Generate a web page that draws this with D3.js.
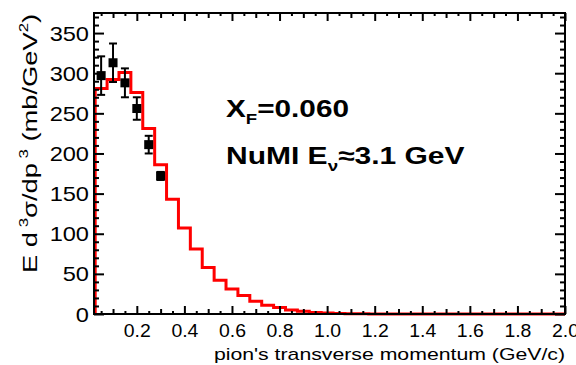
<!DOCTYPE html>
<html>
<head>
<meta charset="utf-8">
<script src="https://cdn.jsdelivr.net/npm/d3@7/dist/d3.min.js"></script>
<style>
  body { margin: 0; background: #fff; }
  text { font-family: "Liberation Sans", Arial, Helvetica, sans-serif; fill: #000; }
</style>
</head>
<body>
<svg id="chart" width="576" height="365"></svg>
<script>
// histogram (red line): lower bin edges and contents, mb/GeV^2
const binLow = [0.025, 0.075, 0.125, 0.175, 0.225, 0.275, 0.325, 0.375, 0.425, 0.475,
                0.525, 0.575, 0.625, 0.675, 0.725, 0.775, 0.825, 0.875, 0.925, 0.975,
                1.025, 1.075, 1.125, 1.175];
const mcValues = [281, 292, 301, 276, 231, 186, 143, 107, 81, 58,
                  42, 31, 23, 16, 11, 8, 5, 3.5, 2, 1.2,
                  0.7, 0.4, 0.2, 0];
const histEnd = 2.0;

// data points with errors
const pT = [0.05, 0.10, 0.15, 0.20, 0.25, 0.30];
const sigma = [297, 313, 288, 256, 211, 172];
const sigmaErr = [24, 24, 18, 14, 11, 5];

// axis ticks
const xTickValues = [0.2, 0.4, 0.6, 0.8, 1.0, 1.2, 1.4, 1.6, 1.8, 2.0];
const yTickValues = [0, 50, 100, 150, 200, 250, 300, 350];

const svg = d3.select('#chart');
const padL = 94, padR = 565, padT = 13, padB = 314;

const x = d3.scaleLinear().domain([0.02, 2.0]).range([padL, padR]);
const y = d3.scaleLinear().domain([0, 375]).range([padB, padT]);

//histogram as a step line
const histPoints = [[binLow[0], 0]];
binLow.forEach(function(b, i) { histPoints.push([b, mcValues[i]]); });
histPoints.push([histEnd, 0]);

const line = d3.line()
  .x(function(d) { return x(d[0]); })
  .y(function(d) { return y(d[1]); })
  .curve(d3.curveStepAfter);

svg.append('path')
  .datum(histPoints)
  .attr('fill', 'none')
  .attr('stroke', '#ff0000')
  .attr('stroke-width', 3)
  .attr('d', line);

//frame
svg.append('rect')
  .attr('x', padL).attr('y', padT)
  .attr('width', padR - padL).attr('height', padB - padT)
  .attr('fill', 'none').attr('stroke', '#000').attr('stroke-width', 2);

//ticks: draw an axis on each side, inward
function tickAxis(axis, tx, ty, values, size) {
  const g = svg.append('g')
    .attr('transform', 'translate(' + tx + ',' + ty + ')')
    .call(axis.tickValues(values).tickSize(size).tickFormat(''));
  g.select('.domain').remove();
  g.selectAll('line').attr('stroke', '#000').attr('stroke-width', 2);
  return g;
}
const xMid = d3.range(0.1, 2.0, 0.2);
const xMinor = d3.range(0.05, 2.0, 0.1);
const yMinor = d3.range(10, 375, 10).filter(function(v) { return v % 50 !== 0; });

tickAxis(d3.axisBottom(x), 0, padB, xTickValues, -8);
tickAxis(d3.axisBottom(x), 0, padB, xMid, -5);
tickAxis(d3.axisBottom(x), 0, padB, xMinor, -3);
tickAxis(d3.axisTop(x), 0, padT, xTickValues, -8);
tickAxis(d3.axisTop(x), 0, padT, xMid, -5);
tickAxis(d3.axisTop(x), 0, padT, xMinor, -3);
tickAxis(d3.axisLeft(y), padL, 0, yTickValues, -10);
tickAxis(d3.axisLeft(y), padL, 0, yMinor, -5);
tickAxis(d3.axisRight(y), padR, 0, yTickValues, -10);
tickAxis(d3.axisRight(y), padR, 0, yMinor, -5);

//tick labels
const xLab = svg.append('g')
  .attr('transform', 'translate(0,' + padB + ')')
  .call(d3.axisBottom(x).tickValues(xTickValues).tickSize(0).tickPadding(0)
    .tickFormat(d3.format('.1f')));
xLab.select('.domain').remove();
xLab.selectAll('text')
  .attr('y', 0).attr('dy', null)
  .attr('transform', 'translate(0,23) scale(1.08,1)')
  .style('font-size', '18px');

const yLab = svg.append('g')
  .attr('transform', 'translate(' + padL + ',0)')
  .call(d3.axisLeft(y).tickValues(yTickValues).tickSize(0).tickPadding(0));
yLab.select('.domain').remove();
yLab.selectAll('text')
  .attr('x', 0).attr('dy', '0.35em')
  .attr('transform', 'translate(-5,0) scale(1.18,1)')
  .style('font-size', '20px');

//axis titles
svg.append('text')
  .attr('transform', 'translate(' + padR + ',360) scale(1.25,1)')
  .attr('text-anchor', 'end')
  .style('font-size', '17px')
  .text("pion's transverse momentum (GeV/c)");

const yTitle = svg.append('text')
  .attr('transform', 'translate(37,273) rotate(-90) scale(1.3,1)')
  .style('font-size', '21px');
yTitle.append('tspan').text('E d');
yTitle.append('tspan').attr('dy', -9).style('font-size', '13px').text(' 3');
yTitle.append('tspan').attr('dy', 9).text('σ/dp');
yTitle.append('tspan').attr('dy', -9).style('font-size', '13px').text(' 3');
yTitle.append('tspan').attr('dy', 9).text('  (mb/GeV');
yTitle.append('tspan').attr('dy', -9).style('font-size', '13px').text('2');
yTitle.append('tspan').attr('dy', 9).text(')');

//annotations
const note1 = svg.append('text')
  .attr('transform', 'translate(226,117) scale(1.24,1)')
  .style('font-size', '24px').style('font-weight', 'bold');
note1.append('tspan').text('X');
note1.append('tspan').attr('dy', 7).style('font-size', '15px').text('F');
note1.append('tspan').attr('dy', -7).text('=0.060');

const note2 = svg.append('text')
  .attr('transform', 'translate(226,164) scale(1.25,1)')
  .style('font-size', '24px').style('font-weight', 'bold');
note2.append('tspan').text('NuMI E');
note2.append('tspan').attr('dy', 7).style('font-size', '15px').text('ν');
note2.append('tspan').attr('dy', -7).text('≈3.1 GeV');

//data points with error bars
const pts = svg.append('g');
pT.forEach(function(p, i) {
  const cx = x(p), cy = y(sigma[i]);
  const y1 = y(sigma[i] + sigmaErr[i]), y2 = y(sigma[i] - sigmaErr[i]);
  pts.append('line').attr('x1', cx).attr('x2', cx).attr('y1', y1).attr('y2', y2)
    .attr('stroke', '#000').attr('stroke-width', 2);
  [y1, y2].forEach(function(yy) {
    pts.append('line').attr('x1', cx - 4).attr('x2', cx + 4).attr('y1', yy).attr('y2', yy)
      .attr('stroke', '#000').attr('stroke-width', 2);
  });
  pts.append('rect').attr('x', cx - 4.5).attr('y', cy - 4.5)
    .attr('width', 9).attr('height', 9).attr('fill', '#000');
});
</script>
</body>
</html>
